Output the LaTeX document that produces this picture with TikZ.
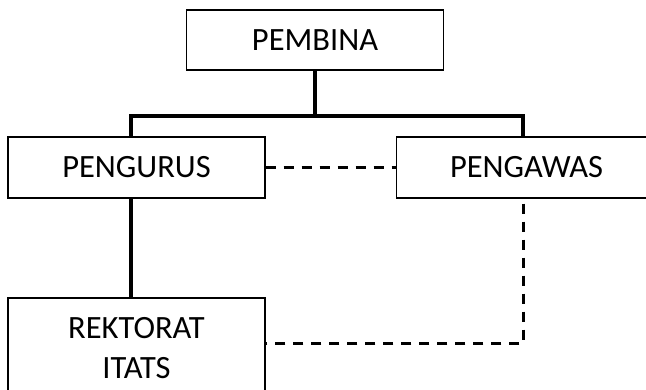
\documentclass[tikz,border=0pt]{standalone}
\usepackage{fontspec}
\setmainfont{Carlito}
\begin{document}
\begin{tikzpicture}[x=1pt, y=-1pt,
    kotak/.style={draw, line width=1.2pt, minimum width=257pt, minimum height=61pt,
      inner sep=0pt, align=center, font=\fontsize{32.5}{40}\selectfont},
    garis/.style={line width=3.2pt},
    putus/.style={line width=3pt, dash pattern=on 10pt off 8pt}]
  \useasboundingbox (0,0) rectangle (646,390);
  \clip (0,0) rectangle (646,390);
  % kotak-kotak
  \node[kotak, minimum height=60pt] (pembina) at (315,40) {PEMBINA};
  \node[kotak] (pengurus) at (136.5,167.5) {PENGURUS};
  \node[kotak, minimum width=260pt] (pengawas) at (526.5,167.5) {PENGAWAS};
  \node[kotak, minimum height=101pt] (rektorat) at (136.5,348.5) {REKTORAT\\ITATS};
  \coordinate (kiri) at (131,116);
  \coordinate (kanan) at (523,116);
  \coordinate (sudut) at (523,344);
  % garis komando
  \draw[garis] (pembina.south) -- (pembina.south |- kiri);
  \draw[garis] (pengurus.north -| kiri) -- (kiri) -- (kanan) -- (pengawas.north -| kanan);
  \draw[garis] (pengurus.south -| kiri) -- (rektorat.north -| kiri);
  % garis koordinasi
  \draw[putus] (pengurus.east) -- (pengawas.west);
  \draw[putus] ([yshift=-5pt]pengawas.south -| sudut) -- (sudut) -- (rektorat.east |- sudut);
\end{tikzpicture}
\end{document}
